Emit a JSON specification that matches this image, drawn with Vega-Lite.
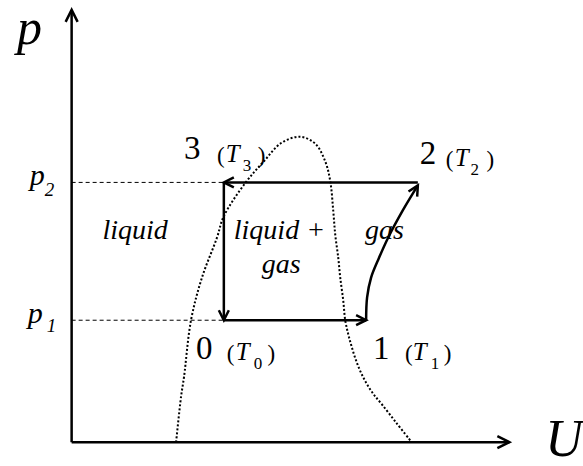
{
  "$schema": "https://vega.github.io/schema/vega-lite/v6.json",
  "width": 583,
  "height": 466,
  "padding": 0,
  "autosize": {"type": "fit", "contains": "padding"},
  "config": {"view": {"stroke": null}},
  "datasets": {
    "dashed": [
      {"g": "p2", "u": 0, "p": 262}, {"g": "p2", "u": 153, "p": 262},
      {"g": "p1", "u": 0, "p": 123}, {"g": "p1", "u": 153, "p": 123}
    ],
    "dome": [
      {"o": 1, "u": 105, "p": 0}, {"o": 2, "u": 110, "p": 46}, {"o": 3, "u": 113, "p": 66},
      {"o": 4, "u": 120, "p": 123}, {"o": 5, "u": 131, "p": 166}, {"o": 6, "u": 146, "p": 206},
      {"o": 7, "u": 153, "p": 228}, {"o": 8, "u": 175, "p": 262}, {"o": 9, "u": 193, "p": 283},
      {"o": 10, "u": 211, "p": 302}, {"o": 11, "u": 230, "p": 308}, {"o": 12, "u": 245, "p": 301},
      {"o": 13, "u": 255, "p": 283}, {"o": 14, "u": 260, "p": 263}, {"o": 15, "u": 263, "p": 233},
      {"o": 16, "u": 265, "p": 209}, {"o": 17, "u": 268, "p": 186}, {"o": 18, "u": 270, "p": 166},
      {"o": 19, "u": 273, "p": 143}, {"o": 20, "u": 275, "p": 123}, {"o": 21, "u": 278, "p": 109},
      {"o": 22, "u": 281, "p": 98}, {"o": 23, "u": 285, "p": 85}, {"o": 24, "u": 290, "p": 72},
      {"o": 25, "u": 296, "p": 60}, {"o": 26, "u": 303, "p": 49}, {"o": 27, "u": 312, "p": 38},
      {"o": 28, "u": 326, "p": 20}, {"o": 29, "u": 341, "p": 1}
    ],
    "axes": [
      {"g": "y", "o": 1, "u": 0, "p": 0}, {"g": "y", "o": 2, "u": 0, "p": 436},
      {"g": "x", "o": 1, "u": 0, "p": 0}, {"g": "x", "o": 2, "u": 440, "p": 0}
    ],
    "cycle": [
      {"g": "23", "o": 1, "u": 348, "p": 262}, {"g": "23", "o": 2, "u": 153, "p": 262},
      {"g": "30", "o": 1, "u": 153, "p": 262}, {"g": "30", "o": 2, "u": 153, "p": 123},
      {"g": "01", "o": 1, "u": 153, "p": 123}, {"g": "01", "o": 2, "u": 296, "p": 123},
      {"g": "12", "o": 1, "u": 296, "p": 123}, {"g": "12", "o": 2, "u": 297, "p": 146},
      {"g": "12", "o": 3, "u": 301, "p": 166}, {"g": "12", "o": 4, "u": 309, "p": 186},
      {"g": "12", "o": 5, "u": 318, "p": 206}, {"g": "12", "o": 6, "u": 333, "p": 234},
      {"g": "12", "o": 7, "u": 348, "p": 259}
    ],
    "heads": [
      {"u": 0, "p": 436, "a": 0, "s": 144},
      {"u": 440, "p": 0, "a": 90, "s": 144},
      {"u": 153, "p": 262, "a": 270, "s": 100},
      {"u": 153, "p": 123, "a": 180, "s": 100},
      {"u": 296, "p": 123, "a": 90, "s": 100},
      {"u": 348, "p": 259, "a": 30, "s": 100}
    ],
    "regular": [
      {"t": "3", "u": 113, "p": 286, "s": 33}, {"t": "2", "u": 350, "p": 281, "s": 33},
      {"t": "0", "u": 125, "p": 84, "s": 33}, {"t": "1", "u": 303, "p": 84, "s": 33},
      {"t": "(", "u": 146, "p": 282, "s": 23}, {"t": ")", "u": 187, "p": 282, "s": 23},
      {"t": "(", "u": 376, "p": 278, "s": 23}, {"t": ")", "u": 417, "p": 278, "s": 23},
      {"t": "(", "u": 156, "p": 82, "s": 23}, {"t": ")", "u": 197, "p": 82, "s": 23},
      {"t": "(", "u": 335, "p": 82, "s": 23}, {"t": ")", "u": 374, "p": 82, "s": 23},
      {"t": "3", "u": 172, "p": 274, "s": 17}, {"t": "2", "u": 401, "p": 269, "s": 17},
      {"t": "0", "u": 183, "p": 74, "s": 17}, {"t": "1", "u": 361, "p": 74, "s": 17}
    ],
    "italic": [
      {"t": "T", "u": 155, "p": 283, "s": 25}, {"t": "T", "u": 385, "p": 279, "s": 25},
      {"t": "T", "u": 165, "p": 83, "s": 25}, {"t": "T", "u": 343, "p": 83, "s": 25},
      {"t": "p", "u": -55, "p": 402, "s": 50}, {"t": "U", "u": 476, "p": -14, "s": 52},
      {"t": "p", "u": -42, "p": 259, "s": 30}, {"t": "2", "u": -27, "p": 248, "s": 19},
      {"t": "p", "u": -44, "p": 120, "s": 30}, {"t": "1", "u": -25, "p": 111, "s": 19},
      {"t": "liquid", "u": 31, "p": 205, "s": 28}, {"t": "liquid +", "u": 163, "p": 205, "s": 28},
      {"t": "gas", "u": 191, "p": 171, "s": 28}, {"t": "gas", "u": 295, "p": 205, "s": 28}
    ]
  },
  "encoding": {
    "x": {"field": "u", "type": "quantitative", "scale": {"domain": [-72, 511], "nice": false, "zero": false}, "axis": null},
    "y": {"field": "p", "type": "quantitative", "scale": {"domain": [-20, 446], "nice": false, "zero": false}, "axis": null}
  },
  "layer": [
    {
      "data": {"name": "dashed"},
      "mark": {"type": "line", "color": "black", "strokeWidth": 1, "strokeDash": [4, 3]},
      "encoding": {"detail": {"field": "g"}}
    },
    {
      "data": {"name": "dome"},
      "mark": {"type": "line", "color": "black", "strokeWidth": 2, "strokeDash": [2, 2], "interpolate": "catmull-rom"},
      "encoding": {"order": {"field": "o", "type": "quantitative"}}
    },
    {
      "data": {"name": "axes"},
      "mark": {"type": "line", "color": "black", "strokeWidth": 2.5},
      "encoding": {"detail": {"field": "g"}, "order": {"field": "o", "type": "quantitative"}}
    },
    {
      "data": {"name": "cycle"},
      "mark": {"type": "line", "color": "black", "strokeWidth": 2.5, "interpolate": "catmull-rom"},
      "encoding": {"detail": {"field": "g"}, "order": {"field": "o", "type": "quantitative"}}
    },
    {
      "data": {"name": "heads"},
      "mark": {"type": "point", "shape": "M-1,2L0,0L1,2", "filled": false, "color": "black", "strokeWidth": 2.5, "opacity": 1, "strokeJoin": "miter"},
      "encoding": {
        "size": {"field": "s", "type": "quantitative", "scale": null},
        "angle": {"field": "a", "type": "quantitative", "scale": null}
      }
    },
    {
      "data": {"name": "regular"},
      "mark": {"type": "text", "font": "Liberation Serif, Times New Roman, serif", "align": "left", "baseline": "alphabetic", "color": "black"},
      "encoding": {
        "text": {"field": "t"},
        "size": {"field": "s", "type": "quantitative", "scale": null}
      }
    },
    {
      "data": {"name": "italic"},
      "mark": {"type": "text", "font": "Liberation Serif, Times New Roman, serif", "fontStyle": "italic", "align": "left", "baseline": "alphabetic", "color": "black"},
      "encoding": {
        "text": {"field": "t"},
        "size": {"field": "s", "type": "quantitative", "scale": null}
      }
    }
  ]
}
